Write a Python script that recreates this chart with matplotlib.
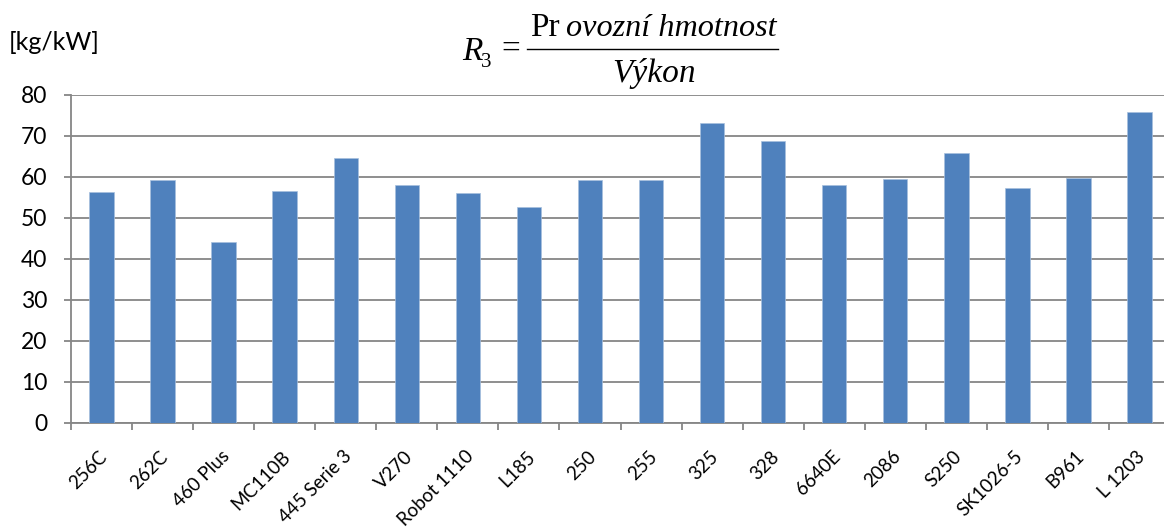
import matplotlib
matplotlib.use("Agg")
import matplotlib.pyplot as plt
from matplotlib.lines import Line2D
from matplotlib.transforms import ScaledTranslation
import numpy as np

categories = ["256C", "262C", "460 Plus", "MC110B", "445 Serie 3", "V270", "Robot 1110",
              "L185", "250", "255", "325", "328", "6640E", "2086", "S250", "SK1026-5",
              "B961", "L 1203"]
values = [56.2, 59.3, 44.1, 56.5, 64.6, 57.9, 56.1, 52.7, 59.2, 59.2, 73.0, 68.7,
          58.0, 59.4, 65.8, 57.2, 59.7, 75.8]
yticks = [0, 10, 20, 30, 40, 50, 60, 70, 80]

W, H = 1164, 529
fig = plt.figure(figsize=(W / 100, H / 100), dpi=100)

def fx(px):
    return px / W

def fy(py):
    return 1 - py / H

ax_left, ax_right = 71, 1170
ax_top, ax_bot = 94.7, 422.7
ax = fig.add_axes([fx(ax_left), fy(ax_bot), (ax_right - ax_left) / W, (ax_bot - ax_top) / H])

grey = "#868686"
x = np.arange(len(categories))
ax.bar(x, values, width=0.4, color="#4F81BD", edgecolor="#A7C0DE", linewidth=0.5, zorder=3)

ax.set_xlim(-0.5, len(categories) - 0.5)
ax.set_ylim(0, 80)
ax.set_yticks(yticks)
ax.yaxis.grid(True, color=grey, linewidth=1.3, zorder=0)
ax.set_axisbelow(True)

for s in ["top", "right"]:
    ax.spines[s].set_visible(False)
for s in ["left", "bottom"]:
    ax.spines[s].set_color(grey)
    ax.spines[s].set_linewidth(1.3)

lab_font = "Lato"
ax.tick_params(axis="y", length=5, width=1.3, color=grey, pad=12, labelsize=16.5)
for t in ax.get_yticklabels():
    t.set_fontfamily(lab_font)

ax.set_xticks(x)
ax.set_xticks(np.arange(-0.5, len(categories), 1.0), minor=True)
ax.tick_params(axis="x", which="major", length=0, pad=18)
ax.tick_params(axis="x", which="minor", length=5, width=1.3, color=grey)
ax.set_xticklabels(categories, rotation=45, ha="right", va="top",
                   rotation_mode="anchor", fontsize=13.5, fontfamily=lab_font)
off = ScaledTranslation(-3 / 100, 0, fig.dpi_scale_trans)
for t in ax.get_xticklabels():
    t.set_transform(t.get_transform() + off)

# unit label
fig.text(fx(9), fy(42), "[kg/kW]", fontsize=18, fontfamily=lab_font, ha="left", va="center")

# formula title
serif = "Liberation Serif"
fs = 24
fig.text(fx(462), fy(60), "R", fontsize=fs, fontfamily=serif, style="italic", ha="left", va="baseline")
fig.text(fx(481), fy(67), "3", fontsize=15, fontfamily=serif, ha="left", va="baseline")
fig.text(fx(511), fy(50), "=", fontsize=fs, fontfamily=serif, ha="center", va="center")
fig.add_artist(Line2D([fx(527), fx(778)], [fy(48.5), fy(48.5)], color="black", linewidth=1.0,
                      transform=fig.transFigure))
fig.text(fx(530), fy(36), "Pr", fontsize=fs, fontfamily=serif, ha="left", va="baseline")
fig.text(fx(777), fy(36), "ovozní hmotnost", fontsize=23.2, fontfamily=serif, style="italic",
         ha="right", va="baseline")
fig.text(fx(654), fy(82), "Výkon", fontsize=fs, fontfamily=serif, style="italic",
         ha="center", va="baseline")

fig.savefig("out.png", dpi=100)
